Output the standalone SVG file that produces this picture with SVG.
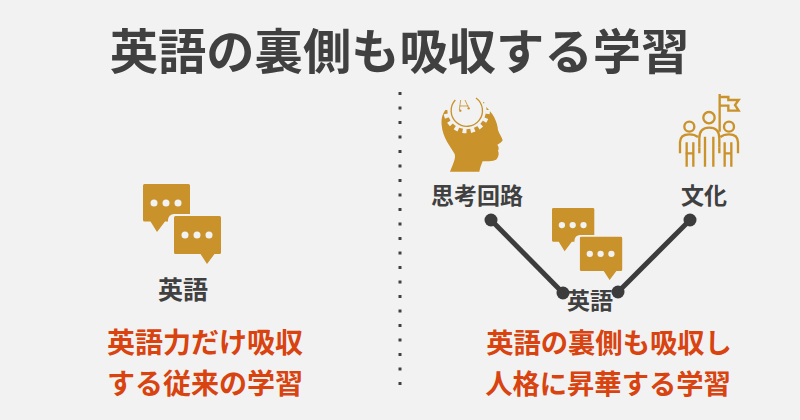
<svg xmlns="http://www.w3.org/2000/svg" width="800" height="420" viewBox="0 0 800 420">
<style>
text{font-family:"Noto Sans CJK JP","Noto Sans CJK SC",sans-serif;font-weight:700;text-anchor:middle}
.t{font-size:48.300px;fill:#404040}
.l{font-size:23px;fill:#404040}
.r{font-size:27.300px;fill:#d8430f}
.gold{fill:#c9922a}
.line{stroke:#c9922a;stroke-width:7;fill:none}
.bg{fill:#f2f2f2}
.c{stroke:#3c3c3c;stroke-width:5;fill:none}
.d{fill:#3c3c3c}
</style>
<defs>
<g id="chat">
<path class="gold" d="M1.500 0H45.500a1.500 1.500 0 0 1 1.500 1.500V36a1.500 1.500 0 0 1-1.500 1.500H22L14 48 7.500 37.500H1.500A1.500 1.500 0 0 1 0 36V1.500A1.500 1.500 0 0 1 1.500 0Z"/>
<circle class="bg" cx="11" cy="19" r="3.500"/><circle class="bg" cx="23" cy="19" r="3.500"/><circle class="bg" cx="35" cy="19" r="3.500"/>
<path class="bg" d="M25 38.500V36a6 6 0 0 1 6-6H48V38.500Z"/>
<path class="gold" d="M32.500 32H76.500a1.500 1.500 0 0 1 1.500 1.500V68.500a1.500 1.500 0 0 1-1.500 1.500H71.500L64 80 57.500 70H32.500A1.500 1.500 0 0 1 31 68.500V33.500A1.500 1.500 0 0 1 32.500 32Z"/>
<circle class="bg" cx="42" cy="51" r="3.500"/><circle class="bg" cx="54" cy="51" r="3.500"/><circle class="bg" cx="66" cy="51" r="3.500"/>
</g>
</defs>
<rect width="800" height="420" class="bg"/>
<text id="title" class="t" x="399.500" y="69">英語の裏側も吸収する学習</text>
<g id="divider"><line x1="400" y1="92" x2="400" y2="386" stroke="#404040" stroke-width="3" stroke-dasharray="3 11.500"/></g>
<g id="node-left-chat">
<use href="#chat" x="143" y="184"/>
<text class="l" style="font-size:25px" x="183" y="299">英語</text>
</g>
<g id="left-caption">
<text class="r" style="font-size:28px" x="205" y="353">英語力だけ吸収</text>
<text class="r" style="font-size:28px" x="205" y="394">する従来の学習</text>
</g>
<g id="connectors">
<path class="c" d="M491 220 L563 293"/>
<path class="c" d="M690 220 L618 292"/>
<circle class="d" cx="491" cy="220" r="6.500"/>
<circle class="d" cx="563" cy="293" r="6.500"/>
<circle class="d" cx="690" cy="220" r="6.500"/>
<circle class="d" cx="618" cy="292" r="6.500"/>
</g>
<g id="node-thought">
<g transform="translate(420 80) scale(.3333)">
<path class="gold" d="M90 275 C100 250 108 235 104 222 C92 200 68 175 65 135 C63 115 68 100 78 88 L140 60 L195 78 C220 100 232 125 234 150 C238 162 246 172 248 181 C246 187 238 190 232 194 C236 200 238 206 234 212 C238 220 236 228 231 236 C225 244 205 244 188 244 C184 254 180 264 178 275Z"/>
<circle class="bg" cx="140" cy="90" r="58"/>
<circle cx="140" cy="90" r="63" fill="none" stroke="#f2f2f2" stroke-width="14" stroke-dasharray="12 12.700"/>
<path class="bg" d="M60 20H220V66L196 66 200 90H80L76 88 60 60Z"/>
<path d="M106 60A47 47 0 1 0 168 54" fill="none" stroke="#c9922a" stroke-width="4"/>
<path d="M122 60L118 90M135 60L146 84M119 78H146" fill="none" stroke="#c9922a" stroke-width="2.500"/>
<circle class="gold" cx="121" cy="92" r="3.500"/><circle class="gold" cx="146" cy="85" r="3.500"/>
<circle class="gold" cx="191" cy="68" r="2"/>
</g>
<text class="l" x="477" y="204">思考回路</text>
</g>
<g id="node-culture">
<g transform="translate(660 85) scale(.3333)">
<circle class="line" cx="147" cy="98" r="17"/>
<circle class="line" cx="88" cy="125" r="15"/>
<circle class="line" cx="207" cy="125" r="15"/>
<path class="line" d="M118 188V160Q118 128 148 128Q178 128 178 160V188"/>
<path class="line" d="M135 155V245M160 155V245"/>
<path class="line" d="M60 205V172Q60 148 88 148Q104 148 114 156"/>
<path class="line" d="M234 205V172Q234 148 207 148Q191 148 181 156"/>
<path class="line" d="M80 172V245M100 172V245M76 205H100M194 205H214M194 172V245M214 172V245M118 188V205M178 188V205"/>
<path class="line" stroke-width="5" d="M179 27V140M179 36H205V45H236L225 60 236 77H205V62H179"/>
</g>
<text class="l" x="704" y="204">文化</text>
</g>
<g id="node-right-chat">
<use href="#chat" transform="translate(552 208) scale(.9)"/>
<text class="l" x="590" y="309">英語</text>
</g>
<g id="right-caption">
<text class="r" x="609" y="353">英語の裏側も吸収し</text>
<text class="r" x="608" y="394">人格に昇華する学習</text>
</g>
</svg>
